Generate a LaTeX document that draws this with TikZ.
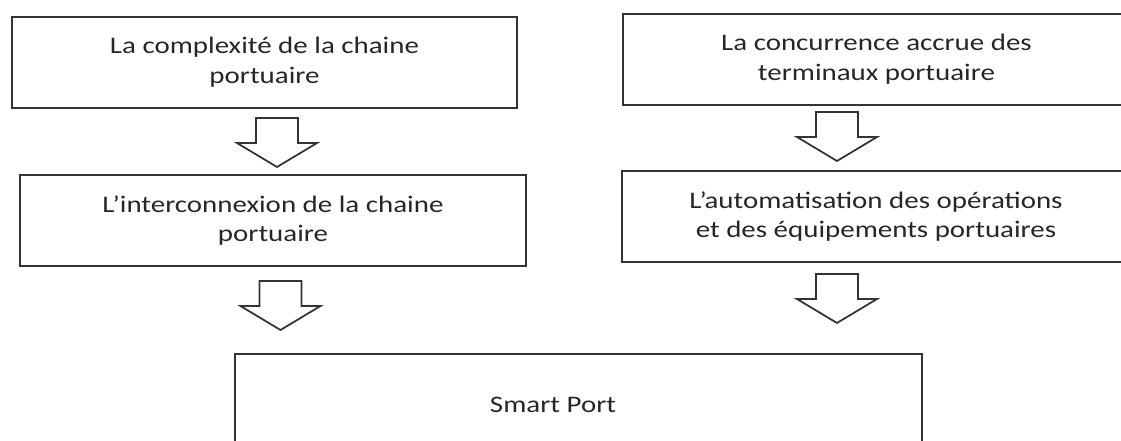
\documentclass[tikz,border=0pt]{standalone}
\usepackage{fontspec}
\setmainfont{Carlito}
\newfontfamily\widefont[FakeStretch=1.22]{Carlito}

\tikzset{
  boxfont/.style={font=\widefont\fontsize{13.5}{17}\selectfont, text=black!85},
  box/.style={draw=black!80, line width=1.1pt, inner sep=0pt, align=center, boxfont},
  arrowline/.style={draw=black!80, line width=1pt, line join=miter},
  % hollow block arrow pointing down, origin at the top of the shaft
  pics/downarrow/.style={code={
    \draw[arrowline] (-21,0) -- (-21,25) -- (-40,25) -- (0,49)
                     -- (40,25) -- (21,25) -- (21,0) -- cycle;
  }}
}

\begin{document}
\begin{tikzpicture}[x=0.2mm, y=-0.2mm]
  \useasboundingbox (0,0) rectangle (1121,441);

  % left column
  \node[box, minimum width=101mm, minimum height=18.2mm] (cplx) at (264.5,62.5)
       {La complexité de la chaine\\portuaire};
  \node[box, minimum width=101.2mm, minimum height=18.2mm] (inter) at (273,220.5)
       {L’interconnexion de la chaine\\portuaire};

  % right column
  \node[box, minimum width=101.4mm, minimum height=18.2mm] (conc) at (876.5,59.5)
       {La concurrence accrue des\\terminaux portuaire};
  \node[box, minimum width=101.6mm, minimum height=18.2mm] (auto) at (876,216.5)
       {L’automatisation des opérations\\et des équipements portuaires};

  % result
  \node[box, minimum width=137.4mm, minimum height=25.2mm] (port) at (578.5,417) {};
  \node[boxfont] (portlabel) at (553,405) {Smart Port};

  % arrows between the boxes
  \pic at (277,118) {downarrow};
  \pic at (280.5,281) {downarrow};
  \pic at (837,112) {downarrow};
  \pic at (837,274) {downarrow};
\end{tikzpicture}
\end{document}
